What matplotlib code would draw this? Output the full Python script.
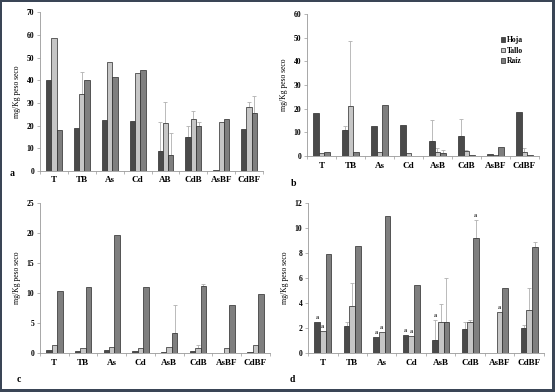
import numpy as np
import matplotlib.pyplot as plt
from matplotlib.patches import Rectangle

plt.rcParams['font.family'] = ['Liberation Serif', 'DejaVu Serif']
plt.rcParams['font.weight'] = 'bold'

series = ['Hoja', 'Tallo', 'Raíz']
colors = ['#4a4a4a', '#c6c6c6', '#7f7f7f']

cats_a = ['T', 'TB', 'As', 'Cd', 'AB', 'CdB', 'AsBF', 'CdBF']
cats = ['T', 'TB', 'As', 'Cd', 'AsB', 'CdB', 'AsBF', 'CdBF']

# panel a
hoja_a = [40.3, 19.1, 22.6, 21.9, 9.0, 14.9, 0.2, 18.7]
tallo_a = [58.8, 33.7, 48.2, 43.1, 21.3, 22.8, 21.6, 28.4]
raiz_a = [18.2, 39.9, 41.2, 44.3, 7.1, 19.7, 23.1, 25.6]
# tops of the error bars (0 = no bar)
hoja_a_top = [0, 0, 0, 0, 21.6, 19.8, 0, 0]
tallo_a_top = [0, 43.5, 0, 0, 30.6, 26.4, 0, 30.6]
raiz_a_top = [0, 0, 0, 0, 16.9, 21.6, 0, 33.2]

# panel b
hoja_b = [18.3, 11.1, 12.8, 13.3, 6.3, 8.4, 1.0, 18.7]
tallo_b = [1.3, 21.2, 1.8, 1.4, 1.7, 2.0, 0.4, 1.7]
raiz_b = [1.5, 1.8, 21.6, 0.2, 1.3, 0.5, 3.8, 0.4]
hoja_b_top = [0, 12.9, 0, 0, 15.4, 15.6, 0, 0]
tallo_b_top = [0, 48.6, 0, 0, 3.2, 2.4, 0, 3.4]
raiz_b_top = [0, 0, 0, 0, 2.4, 0, 0, 0]

# panel c
hoja_c = [0.55, 0.35, 0.5, 0.35, 0.15, 0.4, 0.0, 0.2]
tallo_c = [1.3, 0.9, 1.0, 0.85, 1.0, 0.85, 0.8, 1.3]
raiz_c = [10.4, 11.0, 19.6, 11.0, 3.3, 11.2, 8.0, 9.9]
hoja_c_top = [0, 0, 0, 0, 0, 0, 0, 0]
tallo_c_top = [0, 0, 0, 0, 0, 1.3, 0, 0]
raiz_c_top = [0, 0, 0, 0, 8.0, 11.5, 0, 0]

# panel d
hoja_d = [2.5, 2.2, 1.26, 1.45, 1.07, 1.93, 0.0, 2.04]
tallo_d = [1.75, 3.75, 1.7, 1.4, 2.46, 2.5, 3.27, 3.43]
raiz_d = [7.9, 8.55, 10.95, 5.46, 2.52, 9.24, 5.2, 8.52]
hoja_d_top = [0, 2.5, 0, 0, 2.68, 2.52, 0, 2.25]
tallo_d_top = [0, 5.6, 0, 0, 3.96, 2.68, 0, 5.2]
raiz_d_top = [0, 0, 0, 0, 6.03, 10.66, 0, 8.9]
# (category, series) marked with "a"
marks_d = [(0, 0), (0, 1), (2, 0), (2, 1), (3, 0), (3, 1), (4, 0), (5, 2), (6, 1)]

panels = [
    ('a', cats_a, [hoja_a, tallo_a, raiz_a], [hoja_a_top, tallo_a_top, raiz_a_top],
     70, 10, [0.072, 0.564, 0.402, 0.405], (10, 173)),
    ('b', cats, [hoja_b, tallo_b, raiz_b], [hoja_b_top, tallo_b_top, raiz_b_top],
     60, 10, [0.553, 0.602, 0.418, 0.362], (291, 183)),
    ('c', cats, [hoja_c, tallo_c, raiz_c], [hoja_c_top, tallo_c_top, raiz_c_top],
     25, 5, [0.072, 0.0995, 0.414, 0.3825], (17, 379)),
    ('d', cats, [hoja_d, tallo_d, raiz_d], [hoja_d_top, tallo_d_top, raiz_d_top],
     12, 2, [0.555, 0.0995, 0.425, 0.3825], (290, 379)),
]

W, H = 555, 392
fig = plt.figure(figsize=(W / 100, H / 100), dpi=100)
fig.patch.set_facecolor('#3a4556')
fig.patches.append(Rectangle((2 / W, 3 / H), (W - 5) / W, (H - 5) / H,
                             transform=fig.transFigure, facecolor='white',
                             edgecolor='none', zorder=-5))

bw = 0.19
x = np.arange(8)
for letter, cl, vals, tops, ymax, step, pos, lpos in panels:
    ax = fig.add_axes(pos)
    ax.set_facecolor('none')
    for k in range(3):
        v = np.array(vals[k])
        t = np.array(tops[k])
        xs = x + (k - 1) * bw
        ax.bar(xs, v, bw, color=colors[k], edgecolor='#2a2a2a',
               linewidth=0.5, label=series[k], zorder=2)
        up = np.where(t > 0, t - v, 0)
        has = t > 0
        if has.any():
            ax.errorbar(xs[has], v[has], yerr=[np.zeros(has.sum()), up[has]],
                        fmt='none', ecolor='#b0b0b0', elinewidth=0.6,
                        capsize=1.2, capthick=0.6, zorder=1)
        if letter == 'd':
            for ci, si in marks_d:
                if si == k:
                    top = max(v[ci], t[ci])
                    ax.text(xs[ci], top + 0.15, 'a', ha='center', va='bottom',
                            fontsize=4.5, color='#333333')
    ax.set_xlim(-0.5, 7.5)
    ax.set_ylim(0, ymax)
    ax.set_yticks(np.arange(0, ymax + 0.1, step))
    ax.set_xticks(np.arange(-0.5, 8, 1), minor=False)
    ax.set_xticklabels([])
    ax.set_xticks(x, minor=True)
    ax.set_xticklabels(cl, minor=True)
    ax.tick_params(axis='x', which='minor', length=0, labelsize=6.5, pad=4)
    ax.tick_params(axis='x', which='major', length=2, width=0.5, color='#999999')
    ax.tick_params(axis='y', length=2, width=0.5, color='#999999',
                   labelsize=5.5, pad=2)
    for s in ['top', 'right']:
        ax.spines[s].set_visible(False)
    for s in ['left', 'bottom']:
        ax.spines[s].set_color('#999999')
        ax.spines[s].set_linewidth(0.6)
    ax.set_ylabel('mg/Kg peso seco', fontsize=5.5, labelpad=4)
    fig.text(lpos[0] / W, 1 - lpos[1] / H, letter, fontsize=7, ha='left',
             va='center')
    if letter == 'b':
        ax.legend(loc='upper left', bbox_to_anchor=(0.82, 0.87), frameon=False,
                  fontsize=5.5, handlelength=0.55, handleheight=0.55,
                  handletextpad=0.2, labelspacing=0.3, borderpad=0)

fig.savefig('out.png', dpi=100, facecolor=fig.get_facecolor())
